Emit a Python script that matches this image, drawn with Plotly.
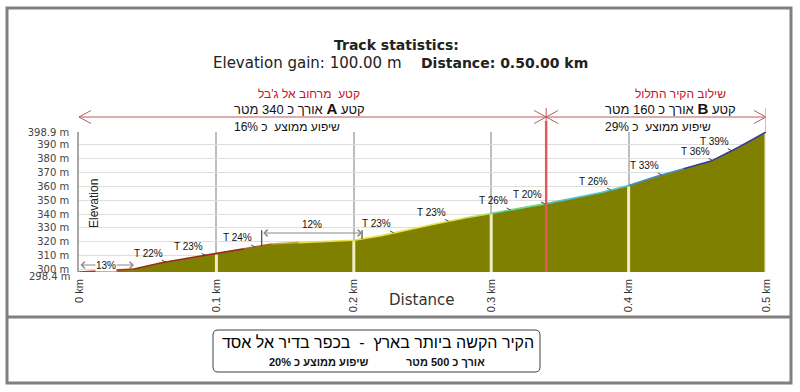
import numpy as np
import plotly.graph_objects as go

# ---------------- data ----------------
dist_km = [0.00, 0.02, 0.04, 0.06, 0.08, 0.10, 0.12, 0.14, 0.16, 0.18, 0.20,
           0.22, 0.24, 0.26, 0.28, 0.30, 0.32, 0.34, 0.36, 0.38, 0.40,
           0.42, 0.44, 0.46, 0.48, 0.50]
elev_m = [298.4, 299.3, 300.6, 305.0, 308.5, 311.5, 315.0, 318.5, 319.5, 320.3, 321.2,
          324.5, 329.0, 333.0, 337.0, 340.5, 344.0, 347.5, 351.5, 355.5, 360.5,
          367.0, 372.5, 378.0, 388.0, 398.9]
seg_colors = ["#d42020", "#d42020", "#9a2a1a", "#9a2a1a", "#9a2a1a", "#9a2a1a",
              "#a8641e", "#c8a030", "#e8e040", "#e8e040", "#e8e040", "#e8e040",
              "#e8e040", "#e8e040", "#b8e060", "#70d890", "#70d890", "#50c8d0",
              "#50c8d0", "#50c8d0", "#4090d0", "#4090d0", "#3838a0", "#3838a0", "#3838a0"]

y_min, y_max = 298.4, 398.9
ytick_vals = [300, 310, 320, 330, 340, 350, 360, 370, 380, 390, 398.9]
ytick_text = ["300 m", "310 m", "320 m", "330 m", "340 m", "350 m", "360 m",
              "370 m", "380 m", "390 m", "398.9 m"]
ymin_label = "298.4 m"
xtick_vals = [0, 0.1, 0.2, 0.3, 0.4, 0.5]
xtick_text = ["0 km", "0.1 km", "0.2 km", "0.3 km", "0.4 km", "0.5 km"]

section_bounds = [0.0, 0.34, 0.5]
slope_tip_km = [0.063, 0.092, 0.128, 0.229, 0.269, 0.314, 0.339, 0.387, 0.424, 0.461, 0.475]
slope_labels = ["T 22%", "T 23%", "T 24%", "T 23%", "T 23%", "T 26%", "T 20%",
                "T 26%", "T 33%", "T 36%", "T 39%"]
span_start_km = [0.0, 0.133]
span_end_km = [0.04, 0.206]
span_elev = [303.4, 326.4]
span_labels = ["13%", "12%"]

title_main = "Track statistics:"
stat_elev = "Elevation gain: 100.00 m"
stat_dist = "Distance: 0.50.00 km"
secA_title = "קטע  מרחוב אל ג'בל"
secA_len = ("אורך כ 340 מטר", "A", "קטע")
secA_slope = "שיפוע ממוצע  כ 16%"
secB_title = "שילוב הקיר התלול"
secB_len = ("אורך כ 160 מטר", "B", "קטע")
secB_slope = "שיפוע ממוצע  כ 29%"
box_title = "הקיר הקשה ביותר בארץ  -  בכפר בדיר אל אסד"
box_len = "אורך כ 500 מטר"
box_slope = "שיפוע ממוצע כ 20%"

# ---------------- layout geometry (pixels) ----------------
W, H = 800, 392
L, R, T, B = 79, 766, 132, 272
pw, ph = R - L, B - T


def P(px):
    return (px - L) / pw


def Q(py):
    return (B - py) / ph


km_per_px = (xtick_vals[-1] - xtick_vals[0]) / pw

NARROW = "Liberation Sans Narrow, Liberation Sans, Arial"
SANS = "Liberation Sans, Arial"
WIDE = "DejaVu Sans, Verdana"

fig = go.Figure()

# area fill
fig.add_trace(go.Scatter(x=dist_km, y=elev_m, mode="lines", fill="tozeroy",
                         fillcolor="#808000", line=dict(width=0, color="#808000"),
                         hoverinfo="skip", showlegend=False))

# light grid lines inside the filled area
gx, gy = [], []
for t in xtick_vals[1:]:
    e = float(np.interp(t, dist_km, elev_m))
    gx += [t, t, None]
    gy += [y_min, e - 0.6, None]
fig.add_trace(go.Scatter(x=gx, y=gy, mode="lines", line=dict(color="#eeeec4", width=3),
                         hoverinfo="skip", showlegend=False))

# coloured profile line, grouped by colour runs
i = 0
n = len(seg_colors)
while i < n:
    j = i
    while j + 1 < n and seg_colors[j + 1] == seg_colors[i]:
        j += 1
    fig.add_trace(go.Scatter(x=dist_km[i:j + 2], y=elev_m[i:j + 2], mode="lines",
                             line=dict(color=seg_colors[i], width=1.6),
                             hoverinfo="skip", showlegend=False))
    i = j + 1

shapes = []
ann = []


def txt(px, py, text, size, family, color="#111", xanchor="center", **kw):
    d = dict(x=P(px), y=Q(py), xref="paper", yref="paper", text=text, showarrow=False,
             xanchor=xanchor, yanchor="middle",
             font=dict(family=family, size=size, color=color))
    d.update(kw)
    ann.append(d)


# outer frame and divider
frame_col = "#808080"
shapes.append(dict(type="rect", xref="paper", yref="paper", x0=P(7), x1=P(791),
                   y0=Q(383), y1=Q(8), line=dict(color=frame_col, width=3), layer="above"))
shapes.append(dict(type="line", xref="paper", yref="paper", x0=P(7), x1=P(791),
                   y0=Q(317), y1=Q(317), line=dict(color=frame_col, width=3), layer="above"))


# rounded box at the bottom
def rounded(x0, y0, x1, y1, r):
    pts = (f"M {P(x0 + r)},{Q(y0)} L {P(x1 - r)},{Q(y0)} "
           f"Q {P(x1)},{Q(y0)} {P(x1)},{Q(y0 + r)} L {P(x1)},{Q(y1 - r)} "
           f"Q {P(x1)},{Q(y1)} {P(x1 - r)},{Q(y1)} L {P(x0 + r)},{Q(y1)} "
           f"Q {P(x0)},{Q(y1)} {P(x0)},{Q(y1 - r)} L {P(x0)},{Q(y0 + r)} "
           f"Q {P(x0)},{Q(y0)} {P(x0 + r)},{Q(y0)} Z")
    return pts


shapes.append(dict(type="path", xref="paper", yref="paper", path=rounded(213, 330, 540, 372, 5),
                   line=dict(color="#404040", width=1), layer="above"))

# section arrows above the plot
arrow_col = "#b85c5c"
ya = Q(117)
dx = 12 * km_per_px
dy = 6.5 / ph
shapes.append(dict(type="line", xref="x", yref="paper", x0=section_bounds[0], x1=section_bounds[-1],
                   y0=ya, y1=ya, line=dict(color=arrow_col, width=1), layer="above"))
for k, b in enumerate(section_bounds):
    if k > 0:  # arrowhead pointing right, tip at b
        shapes.append(dict(type="path", xref="x", yref="paper",
                           path=f"M {b - dx},{ya + dy} L {b},{ya} L {b - dx},{ya - dy}",
                           line=dict(color=arrow_col, width=1), layer="above"))
    if k < len(section_bounds) - 1:  # arrowhead pointing left
        shapes.append(dict(type="path", xref="x", yref="paper",
                           path=f"M {b + dx},{ya + dy} L {b},{ya} L {b + dx},{ya - dy}",
                           line=dict(color=arrow_col, width=1), layer="above"))

# red divider line between sections
shapes.append(dict(type="line", xref="x", yref="paper", x0=section_bounds[1], x1=section_bounds[1],
                   y0=0, y1=Q(121), line=dict(color="#e05a5a", width=2.5), layer="above"))
shapes.append(dict(type="line", xref="x", yref="paper", x0=section_bounds[1], x1=section_bounds[1],
                   y0=Q(121), y1=Q(108), line=dict(color=arrow_col, width=1), layer="above"))
# right frame stub
shapes.append(dict(type="line", xref="x", yref="paper", x0=xtick_vals[-1], x1=xtick_vals[-1],
                   y0=1, y1=Q(108), line=dict(color="#b0b0b0", width=1.5), layer="above"))

# span arrows inside the plot (13%, 12%)
for s0, s1, sy, lab, k in zip(span_start_km, span_end_km, span_elev, span_labels, range(2)):
    ann.append(dict(x=s1, y=sy, ax=s0, ay=sy, xref="x", yref="y", axref="x", ayref="y",
                    text="", showarrow=True, arrowside="end+start", arrowhead=4,
                    startarrowhead=4, arrowsize=1.3, startarrowsize=1.3, arrowwidth=1,
                    arrowcolor="#8a8a8a", standoff=0, startstandoff=0))
    mid = (s0 + s1) / 2
    if k == 0:
        ann.append(dict(x=mid, y=sy, xref="x", yref="y", text=lab, showarrow=False,
                        xanchor="center", yanchor="middle", bgcolor="white", borderpad=0,
                        font=dict(family=NARROW, size=10, color="#111")))
    else:
        ann.append(dict(x=mid, y=sy, xref="x", yref="y", text=lab, showarrow=False,
                        xanchor="center", yanchor="bottom", yshift=1,
                        font=dict(family=NARROW, size=10, color="#111")))
        for xx in (s0, s1):
            e = float(np.interp(xx, dist_km, elev_m))
            shapes.append(dict(type="line", xref="x", yref="y", x0=xx, x1=xx,
                               y0=sy + 2.0, y1=e, line=dict(color="#202020", width=1)))

# slope labels with leaders
for tk, lab in zip(slope_tip_km, slope_labels):
    e = float(np.interp(tk, dist_km, elev_m))
    ann.append(dict(x=tk, y=e, xref="x", yref="y", text=lab, showarrow=True,
                    arrowhead=0, arrowwidth=0.8, arrowcolor="#222", ax=-17, ay=-9,
                    standoff=0, font=dict(family=NARROW, size=10, color="#111")))

# min label on y axis
ann.append(dict(x=0, y=y_min, xref="paper", yref="y", text=ymin_label, showarrow=False,
                xanchor="right", yanchor="middle", xshift=-6, yshift=-4,
                font=dict(family=WIDE, size=10, color="#444")))

# axis titles
txt(94, 204, "Elevation", 12, NARROW, "#222", textangle=-90)
txt(422, 300, "Distance", 15, WIDE, "#333")

# top statistics
txt(396, 45, f"<b>{title_main}</b>", 14, WIDE, "#222")
txt(404, 63, stat_elev, 15, WIDE, "#222", xanchor="right")
txt(419, 63, f"<b>{stat_dist}</b>", 14, WIDE, "#222", xanchor="left")

red = "#c8102e"


def len_text(parts):
    return f"{parts[0]} <b><span style='font-size:15px'>{parts[1]}</span></b> {parts[2]}"


# section A
txt(362, 94, secA_title, 12, NARROW, red, xanchor="right")
txt(367, 109, len_text(secA_len), 13, NARROW, "#111", xanchor="right")
txt(342, 127, secA_slope, 12, NARROW, "#111", xanchor="right")
# section B
txt(728, 94, secB_title, 12, NARROW, red, xanchor="right")
txt(738, 109, len_text(secB_len), 13, NARROW, "#111", xanchor="right")
txt(713, 127, secB_slope, 12, NARROW, "#111", xanchor="right")

# bottom box texts
txt(378, 342, box_title, 16, SANS, "#000")
txt(487, 362, f"<b>{box_len}</b>", 11, NARROW, "#111", xanchor="right")
txt(370, 362, f"<b>{box_slope}</b>", 11, NARROW, "#111", xanchor="right")

fig.update_layout(
    width=W, height=H,
    margin=dict(l=L, r=W - R, t=T, b=H - B, pad=0),
    paper_bgcolor="white", plot_bgcolor="white",
    showlegend=False,
    shapes=shapes, annotations=ann,
    xaxis=dict(range=[xtick_vals[0], xtick_vals[-1]], tickvals=xtick_vals, ticktext=xtick_text,
               tickangle=-90, showgrid=True, gridcolor="#bdbdbd", gridwidth=1.5,
               zeroline=False, showline=False, ticks="", ticklabelstandoff=4,
               tickfont=dict(family=NARROW, size=11, color="#333")),
    yaxis=dict(range=[y_min, y_max], tickvals=ytick_vals, ticktext=ytick_text,
               showgrid=True, gridcolor="#dedede", gridwidth=1, zeroline=False,
               showline=True, linecolor="#a8a8a8", linewidth=1.5, ticks="",
               ticklabelstandoff=6, tickfont=dict(family=WIDE, size=10, color="#444")),
)

fig.write_html("out.html",
               config={"displayModeBar": False},
               post_script="document.body.style.margin='0';"
                           "document.documentElement.style.overflow='hidden';")
